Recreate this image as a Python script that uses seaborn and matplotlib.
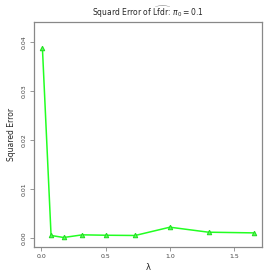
import matplotlib
matplotlib.use("Agg")
import matplotlib.pyplot as plt
import seaborn as sns
import pandas as pd

lam = [0.01, 0.077, 0.175, 0.32, 0.505, 0.73, 1.0, 1.30, 1.65]
sq_err = [0.0387, 0.00055, 0.00014, 0.00068, 0.0006, 0.00055, 0.00224, 0.00122, 0.00108]
xticks = [0.0, 0.5, 1.0, 1.5]
yticks = [0.00, 0.01, 0.02, 0.03, 0.04]

sns.set_style("white")
plt.rcParams['font.family'] = ['DejaVu Sans']

df = pd.DataFrame({"lam": lam, "err": sq_err})

fig = plt.figure(figsize=(2.73, 2.73), dpi=100)
ax = fig.add_axes([34/273, 1-247/273, 228/273, 225/273])
sns.lineplot(data=df, x="lam", y="err", ax=ax, color="#22ff22", linewidth=1.1,
             marker="^", markersize=3.2, markeredgecolor="#22dd22", markerfacecolor="#55ff55")

xr = max(lam) - min(lam)
ax.set_xlim(min(lam) - 0.04*xr, max(lam) + 0.04*xr)
ax.set_ylim(-0.0018, 0.0441)
ax.set_xticks(xticks)
ax.set_xticklabels([f"{v:.1f}" for v in xticks], fontsize=4.5, color="#444444")
ax.set_yticks(yticks)
ax.set_yticklabels([f"{v:.2f}" for v in yticks], fontsize=4.5, rotation=90, va="center", color="#444444")
ax.tick_params(axis="both", direction="out", length=3, width=0.6, color="#888888", pad=2,
               bottom=True, left=True)
for s in ax.spines.values():
    s.set_color("#888888")
    s.set_linewidth(0.9)
ax.set_xlabel("λ", fontsize=6, labelpad=3)
ax.set_ylabel("Squared Error", fontsize=5.5, labelpad=4)
ax.set_title(r"Squard Error of $\widehat{\mathrm{Lfdr}}$: $\pi_0 = 0.1$", fontsize=5.5, pad=4)

fig.savefig("out.png", dpi=100)
